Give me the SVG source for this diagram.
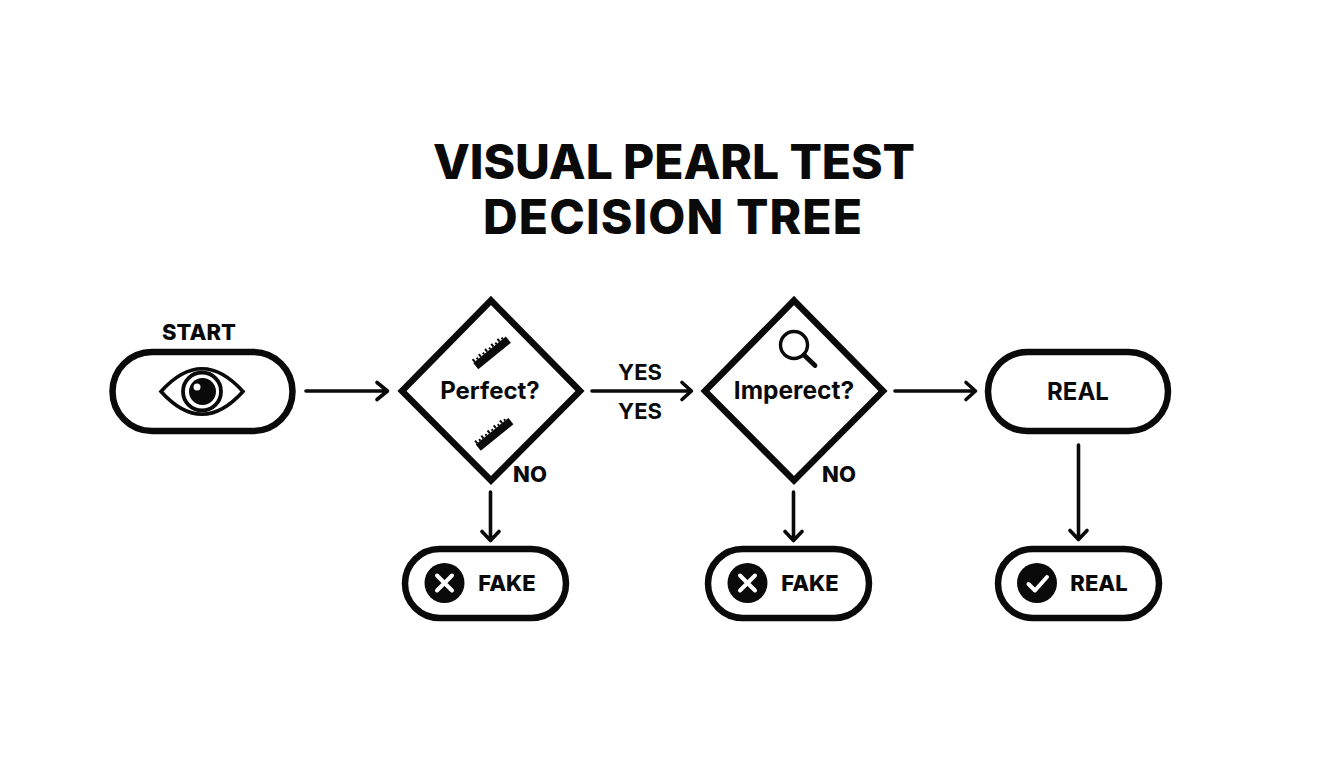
<svg xmlns="http://www.w3.org/2000/svg" width="1344" height="768" viewBox="0 0 1344 768">
<style>
text{font-family:Inter,"Liberation Sans",sans-serif;font-weight:700;fill:#0a0a0a;text-anchor:middle}
.shape{fill:#fff;stroke:#0a0a0a;stroke-width:6.5;stroke-linejoin:miter}
.line{fill:none;stroke:#0a0a0a;stroke-width:3.6;stroke-linecap:round;stroke-linejoin:round}
.lbl{font-size:22px}
.big{font-size:24px}
.t{font-size:48px;font-weight:800}
.heavy{font-weight:800}
.ink{fill:#0a0a0a}
.tick{stroke:#0a0a0a;stroke-width:2;fill:none}
</style>
<defs>
<g id="ruler">
<rect class="ink" x="-21" y="-1.500" width="42" height="8"/>
<path class="tick" d="M-19-5V-1.500M-15-3.500V-1.500M-11-5V-1.500M-7-3.500V-1.500M-3-5V-1.500M1-3.500V-1.500M5-5V-1.500M9-3.500V-1.500M13-5V-1.500M17-3.500V-1.500"/>
</g>
</defs>
<rect width="1344" height="768" fill="#fff"/>
<text class="t" x="674" y="179" textLength="482" lengthAdjust="spacing">VISUAL PEARL TEST</text>
<text class="t" x="672.500" y="234" textLength="379" lengthAdjust="spacing">DECISION TREE</text>
<g id="connectors">
<path class="line" d="M306 391H387M377 382.500L387.500 391L377 399.500"/>
<path class="line" d="M592 391H691M682 382.500L691.500 391L682 399.500"/>
<path class="line" d="M895 391H975M966 382.500L975.500 391L966 399.500"/>
<path class="line" d="M490.500 492V540M482 531.500L490.500 540.500L499 531.500"/>
<path class="line" d="M793.500 492V540M785 531.500L793.500 540.500L802 531.500"/>
<path class="line" d="M1078.500 445V539M1070 530.500L1078.500 539.500L1087 530.500"/>
<text class="lbl" x="640" y="380">YES</text>
<text class="lbl" x="640" y="419">YES</text>
<text class="lbl heavy" x="530" y="482">NO</text>
<text class="lbl heavy" x="839" y="482">NO</text>
</g>
<g id="start">
<text class="lbl heavy" x="199" y="340">START</text>
<rect class="shape" x="112.500" y="352" width="180" height="79" rx="39.500"/>
<path d="M161 391.500Q202 346 243 391.500Q202 437 161 391.500Z" fill="#fff" stroke="#0a0a0a" stroke-width="3.600"/>
<circle cx="202" cy="391.500" r="19" fill="#fff" stroke="#0a0a0a" stroke-width="3.800"/>
<circle class="ink" cx="202.500" cy="391.500" r="13.500"/>
<circle cx="197" cy="387" r="3.500" fill="#fff"/>
</g>
<g id="perfect">
<path class="shape" d="M491 300.500L580 391L491 480.500L402 391Z"/>
<text class="big" x="490" y="399">Perfect?</text>
<use href="#ruler" transform="translate(490.500 351) rotate(-39)"/>
<use href="#ruler" transform="translate(493 432.500) rotate(-39)"/>
</g>
<g id="imperfect">
<path class="shape" d="M794 300.500L883 391L794 480.500L705 391Z"/>
<text class="big" x="794" y="399" style="font-size:24.500px">Imperect?</text>
<circle cx="794" cy="345" r="13.500" fill="none" stroke="#0a0a0a" stroke-width="3.400"/>
<path d="M804 355L815 365.500" fill="none" stroke="#0a0a0a" stroke-width="4.800" stroke-linecap="round"/>
</g>
<g id="real-top">
<rect class="shape" x="988" y="352" width="180" height="79" rx="39.500"/>
<text class="big" x="1078" y="399.500">REAL</text>
</g>
<g id="fake-1">
<rect class="shape" x="405" y="549" width="161" height="69" rx="34.500"/>
<circle class="ink" cx="444.500" cy="583" r="20"/>
<path d="M437 575.500L452 590.500M452 575.500L437 590.500" stroke="#fff" stroke-width="4" stroke-linecap="round"/>
<text class="lbl heavy" x="507" y="591">FAKE</text>
</g>
<g id="fake-2">
<rect class="shape" x="708" y="549" width="161" height="69" rx="34.500"/>
<circle class="ink" cx="747.500" cy="583" r="20"/>
<path d="M740 575.500L755 590.500M755 575.500L740 590.500" stroke="#fff" stroke-width="4" stroke-linecap="round"/>
<text class="lbl heavy" x="810" y="591">FAKE</text>
</g>
<g id="real-bottom">
<rect class="shape" x="998" y="549" width="161" height="69" rx="34.500"/>
<circle class="ink" cx="1037" cy="583" r="20"/>
<path d="M1028.500 584L1035 590.500L1047 577" fill="none" stroke="#fff" stroke-width="4" stroke-linecap="round" stroke-linejoin="round"/>
<text class="lbl heavy" x="1099" y="591">REAL</text>
</g>
</svg>
